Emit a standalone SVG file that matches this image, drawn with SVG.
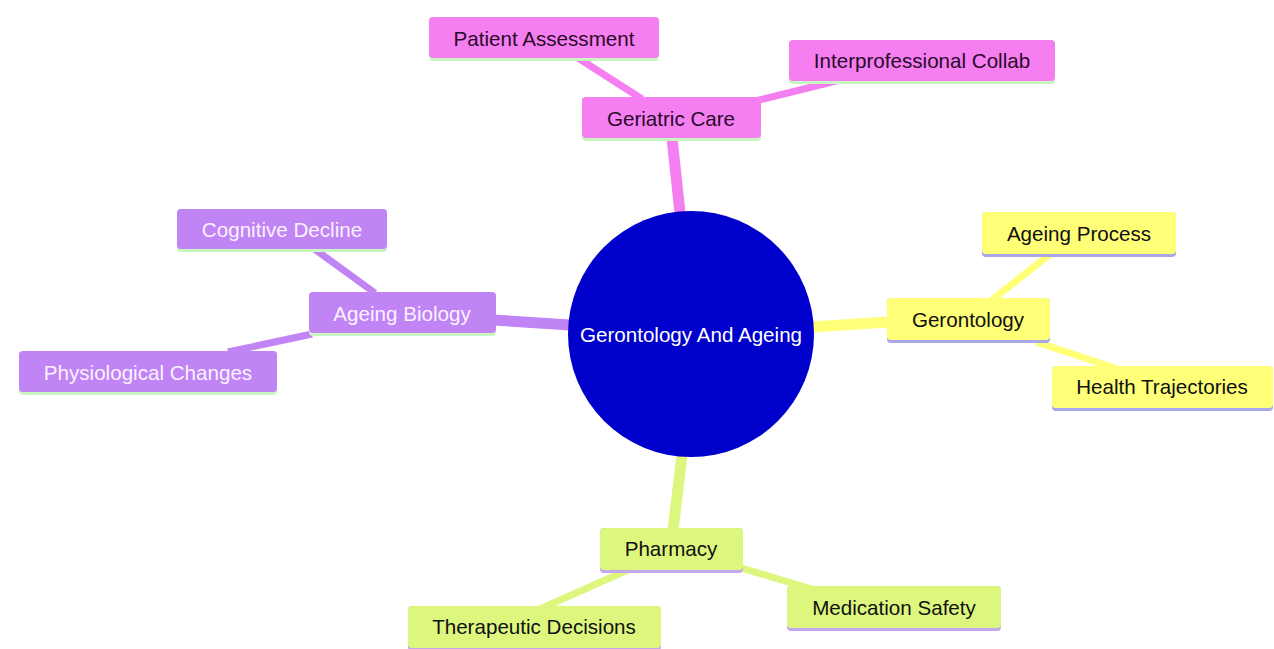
<svg xmlns="http://www.w3.org/2000/svg" width="1274" height="649" viewBox="0 0 1274 649">
<style>
text{font-family:"Liberation Sans",Arial,sans-serif;font-size:20.6px;text-anchor:middle;dominant-baseline:central}
.pk{fill:#f57ef0}.pk-t{fill:#2a0a2a}
.ye{fill:#ffff78}.ye-t{fill:#111}
.li{fill:#ddf77e}.li-t{fill:#111}
.pu{fill:#c084f5}.pu-t{fill:#fbf2ff}
.e{fill:none;stroke-linecap:butt}
</style>
<rect width="1274" height="649" fill="#ffffff"/>
<g id="connectors">
<line class="e" x1="680" y1="213" x2="672" y2="138" stroke="#f57ef0" stroke-width="11"/>
<line class="e" x1="578" y1="58" x2="642" y2="99" stroke="#f57ef0" stroke-width="7"/>
<line class="e" x1="755" y1="101" x2="840" y2="80" stroke="#f57ef0" stroke-width="7"/>
<line class="e" x1="570" y1="325" x2="494" y2="320" stroke="#c084f5" stroke-width="11"/>
<line class="e" x1="313" y1="248" x2="375" y2="293" stroke="#c084f5" stroke-width="7"/>
<line class="e" x1="312" y1="334" x2="228" y2="352" stroke="#c084f5" stroke-width="7"/>
<line class="e" x1="812" y1="327" x2="889" y2="322" stroke="#ffff78" stroke-width="11"/>
<line class="e" x1="1049" y1="255" x2="992" y2="300" stroke="#ffff78" stroke-width="7"/>
<line class="e" x1="1036" y1="342" x2="1115" y2="368" stroke="#ffff78" stroke-width="7"/>
<line class="e" x1="682" y1="455" x2="673" y2="530" stroke="#ddf77e" stroke-width="11"/>
<line class="e" x1="630" y1="569" x2="540" y2="609" stroke="#ddf77e" stroke-width="7"/>
<line class="e" x1="738" y1="567" x2="815" y2="590" stroke="#ddf77e" stroke-width="7"/>
</g>
<g id="root">
<circle cx="691" cy="334" r="123" fill="#0000cc"/>
<text x="691" y="334" fill="#ffffff">Gerontology And Ageing</text>
</g>
<g id="geriatric-care">
<rect x="582" y="97" width="179" height="44" rx="4" fill="#c8f5c0"/>
<rect class="pk" x="582" y="97" width="179" height="41" rx="4"/>
<text class="pk-t" x="671" y="118">Geriatric Care</text>
</g>
<g id="patient-assessment">
<rect x="429" y="17" width="230" height="44" rx="4" fill="#c8f5c0"/>
<rect class="pk" x="429" y="17" width="230" height="41" rx="4"/>
<text class="pk-t" x="544" y="38">Patient Assessment</text>
</g>
<g id="interprofessional-collab">
<rect x="789" y="40" width="266" height="44" rx="4" fill="#c8f5c0"/>
<rect class="pk" x="789" y="40" width="266" height="41" rx="4"/>
<text class="pk-t" x="922" y="60">Interprofessional Collab</text>
</g>
<g id="ageing-biology">
<rect x="309" y="292" width="187" height="44" rx="4" fill="#c8f5c0"/>
<rect class="pu" x="309" y="292" width="187" height="41" rx="4"/>
<text class="pu-t" x="402" y="313">Ageing Biology</text>
</g>
<g id="cognitive-decline">
<rect x="177" y="209" width="210" height="43" rx="4" fill="#c8f5c0"/>
<rect class="pu" x="177" y="209" width="210" height="40" rx="4"/>
<text class="pu-t" x="282" y="229">Cognitive Decline</text>
</g>
<g id="physiological-changes">
<rect x="19" y="351" width="258" height="44" rx="4" fill="#c8f5c0"/>
<rect class="pu" x="19" y="351" width="258" height="41" rx="4"/>
<text class="pu-t" x="148" y="372">Physiological Changes</text>
</g>
<g id="gerontology">
<rect x="887" y="298" width="163" height="45" rx="4" fill="#a8a8ea"/>
<rect class="ye" x="887" y="298" width="163" height="42" rx="4"/>
<text class="ye-t" x="968" y="319">Gerontology</text>
</g>
<g id="ageing-process">
<rect x="982" y="212" width="194" height="45" rx="4" fill="#a8a8ea"/>
<rect class="ye" x="982" y="212" width="194" height="42" rx="4"/>
<text class="ye-t" x="1079" y="233">Ageing Process</text>
</g>
<g id="health-trajectories">
<rect x="1052" y="366" width="221" height="45" rx="4" fill="#a8a8ea"/>
<rect class="ye" x="1052" y="366" width="221" height="42" rx="4"/>
<text class="ye-t" x="1162" y="386">Health Trajectories</text>
</g>
<g id="pharmacy">
<rect x="600" y="528" width="143" height="45" rx="4" fill="#c4a8ee"/>
<rect class="li" x="600" y="528" width="143" height="42" rx="4"/>
<text class="li-t" x="671" y="548">Pharmacy</text>
</g>
<g id="therapeutic-decisions">
<rect x="408" y="606" width="253" height="45" rx="4" fill="#c4a8ee"/>
<rect class="li" x="408" y="606" width="253" height="42" rx="4"/>
<text class="li-t" x="534" y="626">Therapeutic Decisions</text>
</g>
<g id="medication-safety">
<rect x="787" y="586" width="214" height="45" rx="4" fill="#c4a8ee"/>
<rect class="li" x="787" y="586" width="214" height="42" rx="4"/>
<text class="li-t" x="894" y="607">Medication Safety</text>
</g>
</svg>
